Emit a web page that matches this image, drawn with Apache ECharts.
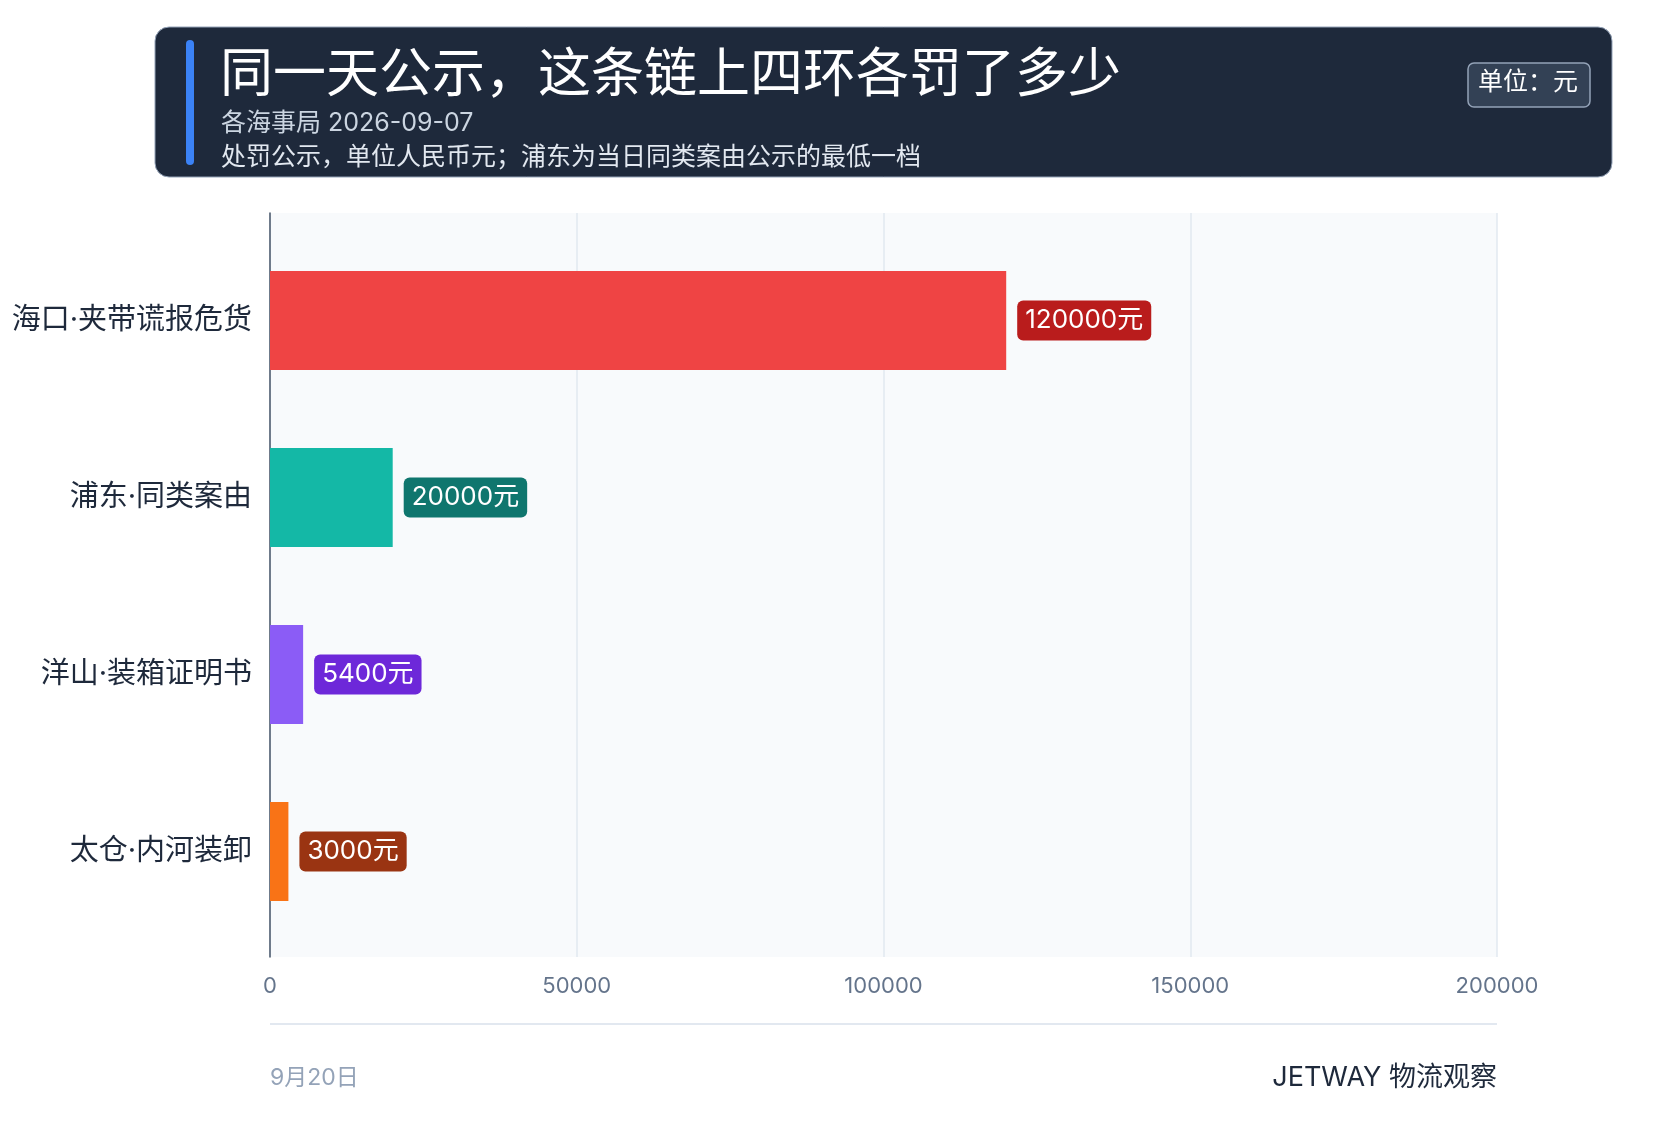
<!DOCTYPE html>
<html><head><meta charset="utf-8">
<script src="https://cdn.jsdelivr.net/npm/echarts@6/dist/echarts.min.js"></script>
<style>html,body{margin:0;padding:0;background:#fff}#c{width:1663px;height:1145px}</style>
</head><body><div id="c"></div>
<script>
var categories = ['海口·夹带谎报危货', '浦东·同类案由', '洋山·装箱证明书', '太仓·内河装卸'];
var values = [120000, 20000, 5400, 3000];
var barColors = ['#ef4444', '#14b8a6', '#8b5cf6', '#f97316'];
var labelColors = ['#b91c1c', '#0f766e', '#6d28d9', '#9a3412'];
var font = 'Inter, "Noto Sans CJK SC", sans-serif';

var chart = echarts.init(document.getElementById('c'));
var option = {
    textStyle: {fontFamily: font},
    animation: false,
    grid: [
        {left: 270, right: 166, top: 213, bottom: 188, show: true, backgroundColor: '#f8fafc', borderWidth: 0},
        {left: 270, right: 166, top: 232, bottom: 205}
    ],
    xAxis: [{
        gridIndex: 0, type: 'value', min: 0, max: 200000, interval: 50000,
        axisLine: {show: false}, axisTick: {show: false},
        splitLine: {lineStyle: {color: '#e2e8f0', width: 1.5}},
        axisLabel: {color: '#64748b', fontSize: 22, margin: 18, fontFamily: font,
            formatter: function (v) { return String(v); }}
    }, {
        gridIndex: 1, type: 'value', min: 0, max: 200000,
        axisLine: {show: false}, axisTick: {show: false}, splitLine: {show: false}, axisLabel: {show: false}
    }],
    yAxis: [{
        gridIndex: 0, type: 'value', min: 0, max: 1,
        axisLine: {show: true, lineStyle: {color: '#475569', width: 1.5}}, axisTick: {show: false},
        splitLine: {show: false}, axisLabel: {show: false}
    }, {
        gridIndex: 1, type: 'category', data: categories, inverse: true,
        axisLine: {show: false}, axisTick: {show: false},
        axisLabel: {color: '#1e293b', fontSize: 29, margin: 18, fontFamily: font}
    }],
    series: [{
        type: 'bar', xAxisIndex: 1, yAxisIndex: 1, barWidth: 99,
        data: values.map(function (v, i) {
            return {value: v, itemStyle: {color: barColors[i]},
                label: {backgroundColor: labelColors[i]}};
        }),
        label: {
            show: true, position: 'right', distance: 11,
            formatter: '{c}元', color: '#fff', fontSize: 26, fontFamily: font,
            padding: [8, 8, 6, 8], borderRadius: 6
        }
    }],
    graphic: [
        {type: 'rect', shape: {x: 155, y: 27, width: 1457, height: 150, r: 14}, style: {fill: '#1e293b', stroke: '#94a3b8', lineWidth: 1}},
        {type: 'rect', shape: {x: 186, y: 40, width: 8, height: 125, r: 4}, style: {fill: '#3b82f6'}},
        {type: 'text', left: 220, top: 50, style: {text: '同一天公示，这条链上四环各罚了多少', fill: '#fff', font: '53px ' + font}},
        {type: 'text', left: 221, top: 111, style: {text: '各海事局 2026-09-07', fill: '#cbd5e1', font: '25px ' + font}},
        {type: 'text', left: 221, top: 145, style: {text: '处罚公示，单位人民币元；浦东为当日同类案由公示的最低一档', fill: '#e2e8f0', font: '25px ' + font}},
        {type: 'rect', shape: {x: 1468, y: 63, width: 122, height: 44, r: 6}, style: {fill: '#334155', stroke: '#94a3b8', lineWidth: 1.5}},
        {type: 'text', left: 1478, top: 70, style: {text: '单位：元', fill: '#fff', font: '25px ' + font}},
        {type: 'line', shape: {x1: 270, y1: 1024, x2: 1497, y2: 1024}, style: {stroke: '#e2e8f0', lineWidth: 2}},
        {type: 'text', left: 270, top: 1067, style: {text: '9月20日', fill: '#94a3b8', font: '23px ' + font}},
        {type: 'text', right: 166, top: 1064, style: {text: 'JETWAY 物流观察', fill: '#1e293b', font: '27px ' + font}}
    ]
};
chart.setOption(option);
</script></body></html>
